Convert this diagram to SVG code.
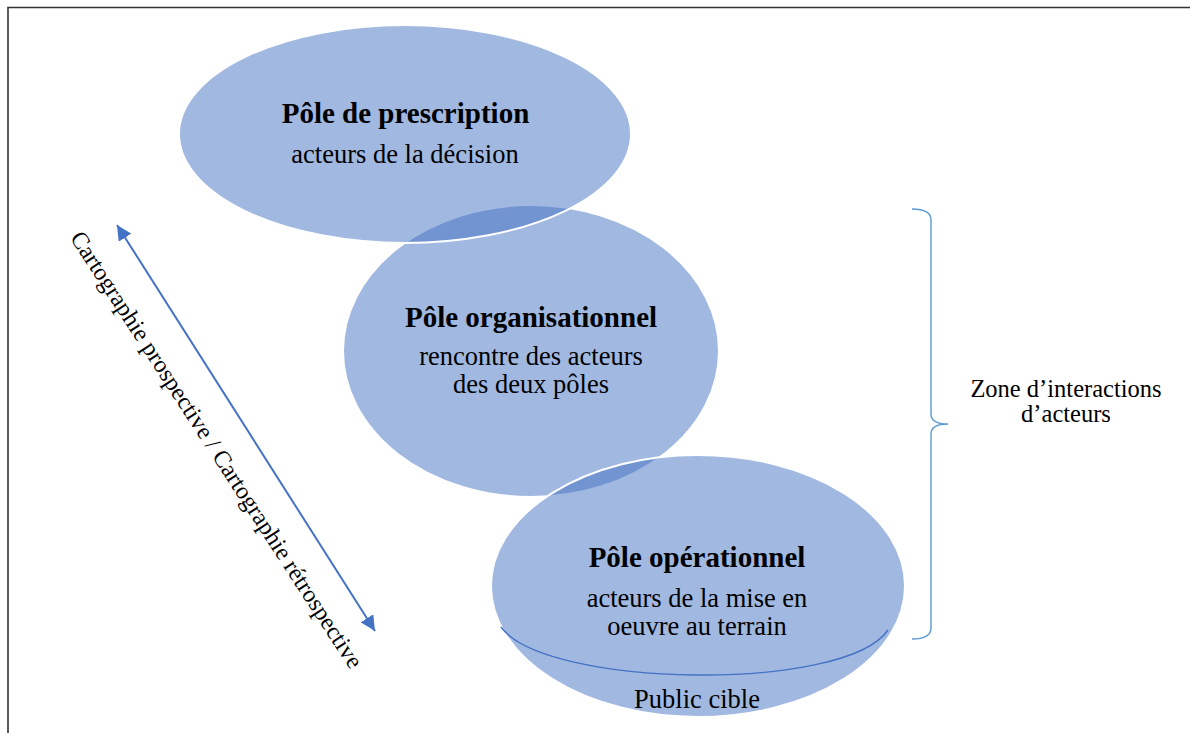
<svg xmlns="http://www.w3.org/2000/svg" width="1190" height="733" viewBox="0 0 1190 733">
<defs>
<style>
.pole{fill:#4472C4;fill-opacity:0.5;stroke:#FFFFFF;stroke-width:2}
.t{font-family:"Liberation Serif","Times New Roman",serif;fill:#000;text-anchor:middle}
.b{font-weight:bold;font-size:29px}
.r{font-size:26.5px}
.side{font-size:24.5px}
.axis{font-size:24px}
</style>
<marker id="ah" viewBox="0 0 10 10" refX="10" refY="5" markerWidth="7.5" markerHeight="7.5" orient="auto-start-reverse" markerUnits="strokeWidth">
<path d="M0,0 L10,5 L0,10 z" fill="#4472C4"/>
</marker>
</defs>
<rect width="1190" height="733" fill="#FFFFFF"/>
<path d="M8 733 V7.5 H1190" fill="none" stroke="#333" stroke-width="1.6"/>

<g id="pole-organisationnel">
<ellipse class="pole" cx="531" cy="351" rx="188" ry="146"/>
</g>
<g id="pole-prescription">
<ellipse class="pole" cx="405" cy="134" rx="226" ry="109"/>
</g>
<g id="pole-operationnel">
<ellipse class="pole" cx="698" cy="586" rx="207" ry="131"/>
<path d="M501 627 C545 688 845 693 888 630" fill="none" stroke="#4472C4" stroke-width="1.4"/>
</g>

<g id="labels-prescription">
<text class="t b" x="405.5" y="123">Pôle de prescription</text>
<text class="t r" x="405" y="163">acteurs de la décision</text>
</g>
<g id="labels-organisationnel">
<text class="t b" x="531" y="327">Pôle organisationnel</text>
<text class="t r" x="531" y="365">rencontre des acteurs</text>
<text class="t r" x="531" y="393">des deux pôles</text>
</g>
<g id="labels-operationnel">
<text class="t b" x="697" y="567">Pôle opérationnel</text>
<text class="t r" x="697" y="607">acteurs de la mise en</text>
<text class="t r" x="697" y="635">oeuvre au terrain</text>
<text class="t r" x="697" y="708">Public cible</text>
</g>

<g id="connectors">
<line x1="117" y1="225" x2="375" y2="631" stroke="#4472C4" stroke-width="2" marker-start="url(#ah)" marker-end="url(#ah)"/>
<path d="M912 209 Q931 209 931 220 L931 414 Q931 424 948 424 Q931 424 931 434 L931 628 Q931 639 912 639" fill="none" stroke="#5B9BD5" stroke-width="1.4"/>
</g>

<g id="axis-label">
<text class="t axis" transform="translate(210 454) rotate(57)" x="0" y="0">Cartographie prospective / Cartographie rétrospective</text>
</g>
<g id="zone-label">
<text class="t side" x="1066" y="397">Zone d’interactions</text>
<text class="t side" x="1066" y="422">d’acteurs</text>
</g>
</svg>
